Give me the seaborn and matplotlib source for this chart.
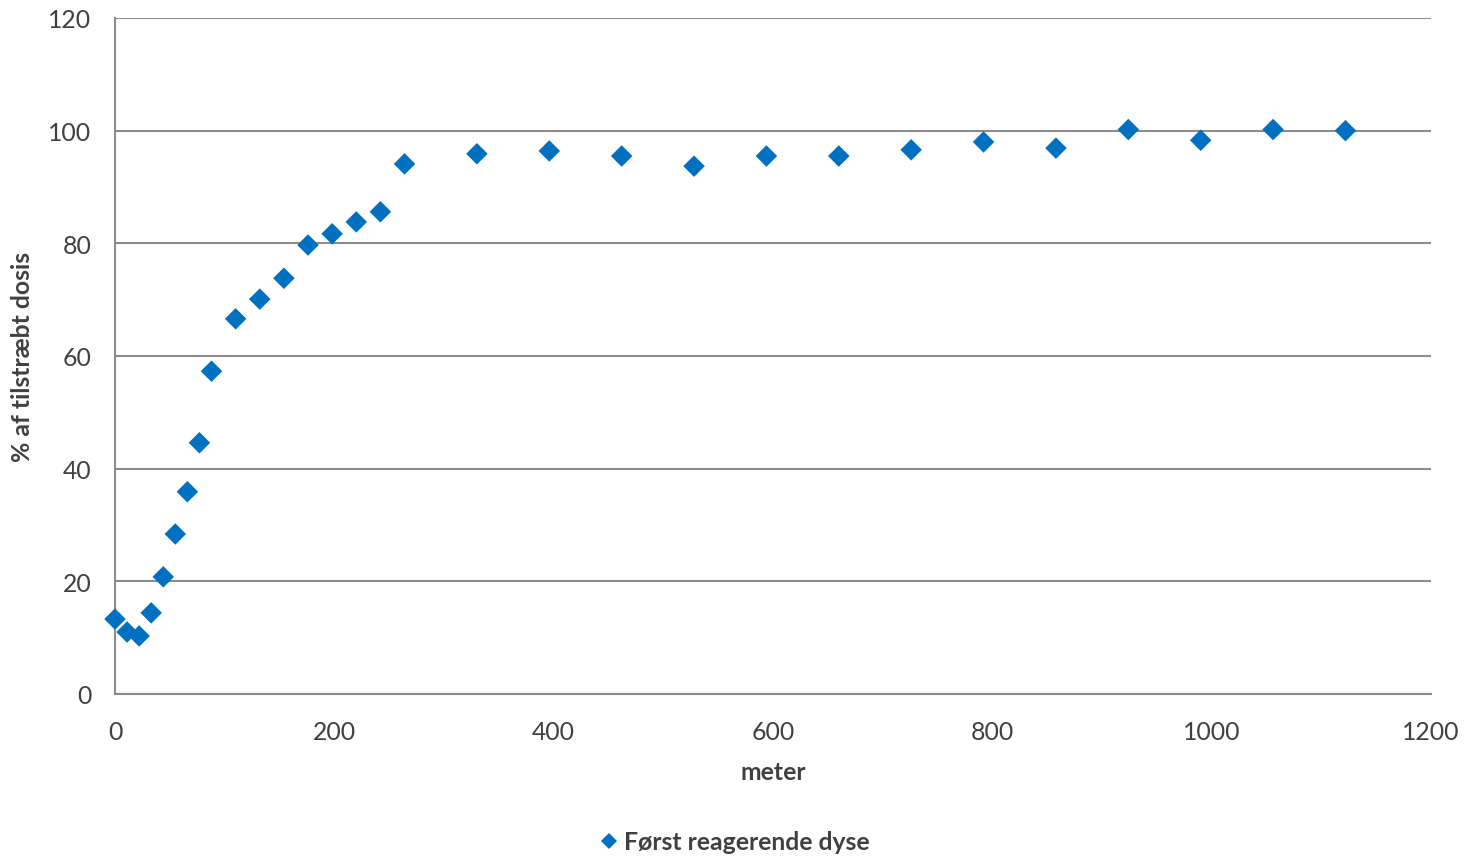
import matplotlib
matplotlib.use("Agg")
import matplotlib.pyplot as plt
import seaborn as sns
import pandas as pd

# Distance along the boom (m) and achieved share of target dose (%)
meter = [0, 11, 22, 33, 44, 55, 66, 77, 88, 110, 132, 154, 176, 198, 220,
         242, 264, 330, 396, 462, 528, 594, 660, 726, 792, 858, 924, 990,
         1056, 1122]
dosis = [13.3, 11.0, 10.3, 14.4, 20.8, 28.4, 35.9, 44.6, 57.3, 66.6, 70.1,
         73.8, 79.7, 81.7, 83.8, 85.6, 94.1, 95.9, 96.4, 95.5, 93.7, 95.5,
         95.5, 96.6, 98.0, 96.9, 100.2, 98.3, 100.2, 100.0]
serie = "Først reagerende dyse"

x_ticks = [0, 200, 400, 600, 800, 1000, 1200]
y_ticks = [0, 20, 40, 60, 80, 100, 120]

df = pd.DataFrame({"meter": meter, "dosis": dosis, "serie": serie})

sns.set_theme(style="white")
plt.rcParams["font.family"] = ["Lato", "DejaVu Sans"]
text_color = "#404040"
grid_color = "#8c8c8c"
fs = 17.8

fig = plt.figure(figsize=(14.67, 8.62), dpi=100)
ax = fig.add_axes([115 / 1467, 1 - 695 / 862, (1431 - 115) / 1467, (695 - 19) / 862])

sns.scatterplot(data=df, x="meter", y="dosis", hue="serie", palette=["#0070C0"],
                marker="D", s=120, edgecolor="none", ax=ax, legend=False,
                zorder=3, clip_on=False)

ax.set_xlim(0, 1200)
ax.set_ylim(0, 120)
ax.set_xticks(x_ticks)
ax.set_yticks(y_ticks)
ax.yaxis.grid(True, color=grid_color, linewidth=1.5)
ax.xaxis.grid(False)
for side in ["top", "right"]:
    ax.spines[side].set_visible(False)
for side in ["left", "bottom"]:
    ax.spines[side].set_color(grid_color)
    ax.spines[side].set_linewidth(1.5)
ax.tick_params(axis="both", labelsize=fs, colors=text_color, length=0)
ax.tick_params(axis="y", pad=17)
ax.tick_params(axis="x", pad=19)

ax.set_xlabel("meter", fontsize=fs, fontweight="bold", color=text_color, labelpad=12)
ax.set_ylabel("% af tilstræbt dosis", fontsize=fs, fontweight="bold", color=text_color, labelpad=10)

handle = plt.Line2D([], [], marker="D", linestyle="none", color="#0070C0",
                    markersize=8.5, markeredgewidth=0)
fig.legend([handle], [serie], loc="center", bbox_to_anchor=(733 / 1467, 1 - 843 / 862),
           frameon=False, handletextpad=0.1, handlelength=1.0,
           prop={"size": fs, "weight": "bold"}, labelcolor=text_color)

fig.savefig("out.png", dpi=100)
